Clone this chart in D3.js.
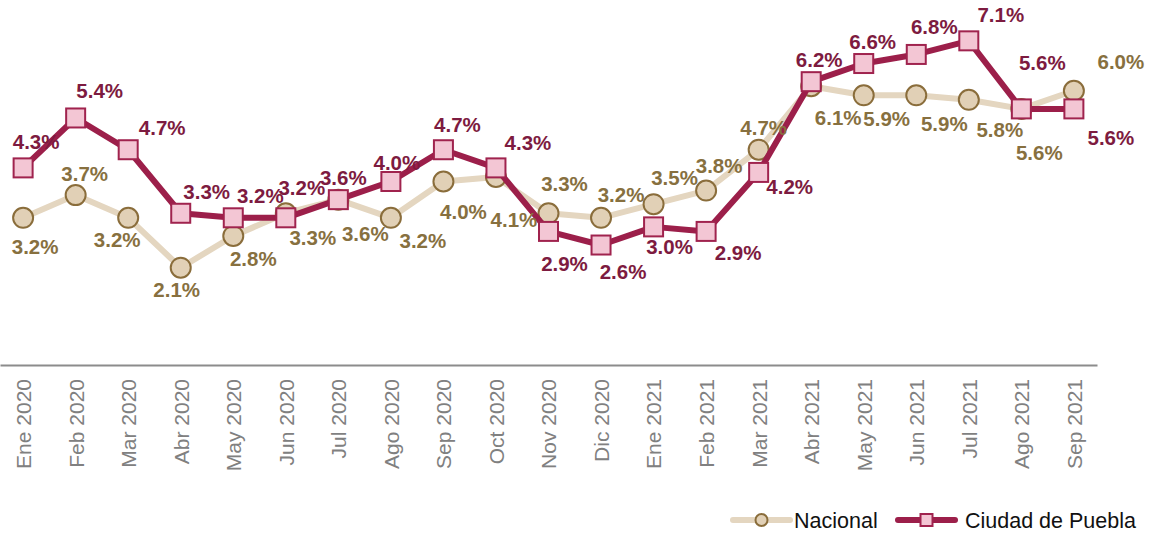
<!DOCTYPE html>
<html>
<head>
<meta charset="utf-8">
<script src="https://cdn.jsdelivr.net/npm/d3@7"></script>
<style>
body { margin: 0; background: #fff; }
svg { display: block; font-family: "Liberation Sans", Arial, sans-serif; }
</style>
</head>
<body>
<div id="chart"></div>
<script>

var width = 1154;
var height = 533;

var categories = ["Ene 2020", "Feb 2020", "Mar 2020", "Abr 2020", "May 2020", "Jun 2020", "Jul 2020",
  "Ago 2020", "Sep 2020", "Oct 2020", "Nov 2020", "Dic 2020", "Ene 2021", "Feb 2021", "Mar 2021",
  "Abr 2021", "May 2021", "Jun 2021", "Jul 2021", "Ago 2021", "Sep 2021"];

var nacional = [3.2, 3.7, 3.2, 2.1, 2.8, 3.3, 3.6, 3.2, 4.0, 4.1, 3.3, 3.2, 3.5, 3.8, 4.7, 6.1, 5.9, 5.9, 5.8, 5.6, 6.0];
var puebla = [4.3, 5.4, 4.7, 3.3, 3.2, 3.2, 3.6, 4.0, 4.7, 4.3, 2.9, 2.6, 3.0, 2.9, 4.2, 6.2, 6.6, 6.8, 7.1, 5.6, 5.6];

// label offsets from each marker (dx, dy)
var nacLabelPos = [[12,29],[9,-21],[-11,22],[-4,22],[20,23],[27,25],[27,34],[32,23],[20,30],[18,43],
  [16,-29],[20,-23],[21,-26],[13,-25],[5,-22],[27,32],[23,24],[28,29],[31,30],[18,44],[47,-29]];
var pueLabelPos = [[13,-26],[24,-27],[34,-22],[26,-21],[27,-22],[16,-30],[5,-22],[6,-19],[14,-25],[32,-25],
  [16,32],[22,27],[16,20],[32,21],[31,14],[8,-22],[9,-22],[18,-28],[32,-26],[21,-46],[37,29]];

var nacColor = { line: "#e4d6c0", fill: "#e1d0b6", stroke: "#8a6d3b", label: "#87703f" };
var pueColor = { line: "#9c1f4a", fill: "#f3c6d4", stroke: "#a0234e", label: "#7d1b40" };

var svg = d3.select("#chart")
  .append("svg")
    .attr("width", width)
    .attr("height", height);

var x_scale = d3.scalePoint()
    .domain(categories)
    .range([0, 1097])
    .padding(0.44);

var y_scale = d3.scaleLinear()
    .domain([0, 8])
    .range([363, 0]);

// x axis
var xAxis = svg.append("g")
    .attr("transform", "translate(0,365)")
    .call(d3.axisBottom(x_scale).tickSize(0).tickSizeOuter(0));
xAxis.select(".domain").attr("stroke", "#8c8c8c").attr("stroke-width", 2);
xAxis.selectAll("text")
    .attr("transform", "rotate(-90)")
    .attr("x", -14)
    .attr("y", 0)
    .attr("dy", "0.35em")
    .attr("text-anchor", "end")
    .attr("fill", "#808080")
    .style("font-size", "21px")
    .style("font-family", "Liberation Sans, Arial, sans-serif");

var line = d3.line()
    .x((d, i) => x_scale(categories[i]))
    .y(d => y_scale(d));

// Nacional
svg.append("path")
    .datum(nacional)
    .attr("fill", "none")
    .attr("stroke", nacColor.line)
    .attr("stroke-width", 6)
    .attr("stroke-linejoin", "round")
    .attr("d", line);

svg.selectAll("circle.nac")
    .data(nacional).enter().append("circle")
    .attr("class", "nac")
    .attr("cx", (d, i) => x_scale(categories[i]))
    .attr("cy", d => y_scale(d))
    .attr("r", 10)
    .attr("fill", nacColor.fill)
    .attr("stroke", nacColor.stroke)
    .attr("stroke-width", 2);

// Ciudad de Puebla
svg.append("path")
    .datum(puebla)
    .attr("fill", "none")
    .attr("stroke", pueColor.line)
    .attr("stroke-width", 6)
    .attr("stroke-linejoin", "round")
    .attr("d", line);

svg.selectAll("rect.pue")
    .data(puebla).enter().append("rect")
    .attr("class", "pue")
    .attr("x", (d, i) => x_scale(categories[i]) - 9.5)
    .attr("y", d => y_scale(d) - 9.5)
    .attr("width", 19)
    .attr("height", 19)
    .attr("fill", pueColor.fill)
    .attr("stroke", pueColor.stroke)
    .attr("stroke-width", 2);

// labels
svg.selectAll("text.nacl")
    .data(nacional).enter().append("text")
    .attr("class", "nacl")
    .attr("x", (d, i) => x_scale(categories[i]) + nacLabelPos[i][0])
    .attr("y", (d, i) => y_scale(d) + nacLabelPos[i][1])
    .attr("dy", "0.35em")
    .attr("text-anchor", "middle")
    .attr("fill", nacColor.label)
    .style("font-size", "20.5px")
    .style("font-weight", "bold")
    .text(d => d.toFixed(1) + "%");

svg.selectAll("text.puel")
    .data(puebla).enter().append("text")
    .attr("class", "puel")
    .attr("x", (d, i) => x_scale(categories[i]) + pueLabelPos[i][0])
    .attr("y", (d, i) => y_scale(d) + pueLabelPos[i][1])
    .attr("dy", "0.35em")
    .attr("text-anchor", "middle")
    .attr("fill", pueColor.label)
    .style("font-size", "20.5px")
    .style("font-weight", "bold")
    .text(d => d.toFixed(1) + "%");

// legend
var legend = [
  { name: "Nacional", c: nacColor, x: 733, shape: "circle" },
  { name: "Ciudad de Puebla", c: pueColor, x: 898, shape: "rect" }
];
var lg = svg.selectAll("g.legend")
    .data(legend).enter().append("g")
    .attr("class", "legend")
    .attr("transform", d => `translate(${d.x},520)`);
lg.append("line")
    .attr("x1", 0).attr("x2", 57)
    .attr("stroke", d => d.c.line)
    .attr("stroke-width", 6)
    .attr("stroke-linecap", "round");
lg.filter(d => d.shape == "circle").append("circle")
    .attr("cx", 28.5).attr("r", 6)
    .attr("fill", d => d.c.fill)
    .attr("stroke", d => d.c.stroke)
    .attr("stroke-width", 2);
lg.filter(d => d.shape == "rect").append("rect")
    .attr("x", 22.5).attr("y", -6).attr("width", 12).attr("height", 12)
    .attr("fill", d => d.c.fill)
    .attr("stroke", d => d.c.stroke)
    .attr("stroke-width", 2);
lg.append("text")
    .attr("x", d => d.shape == "circle" ? 61 : 67)
    .attr("dy", "0.35em")
    .attr("fill", "#111")
    .style("font-size", "21.5px")
    .text(d => d.name);

</script>
</body>
</html>
